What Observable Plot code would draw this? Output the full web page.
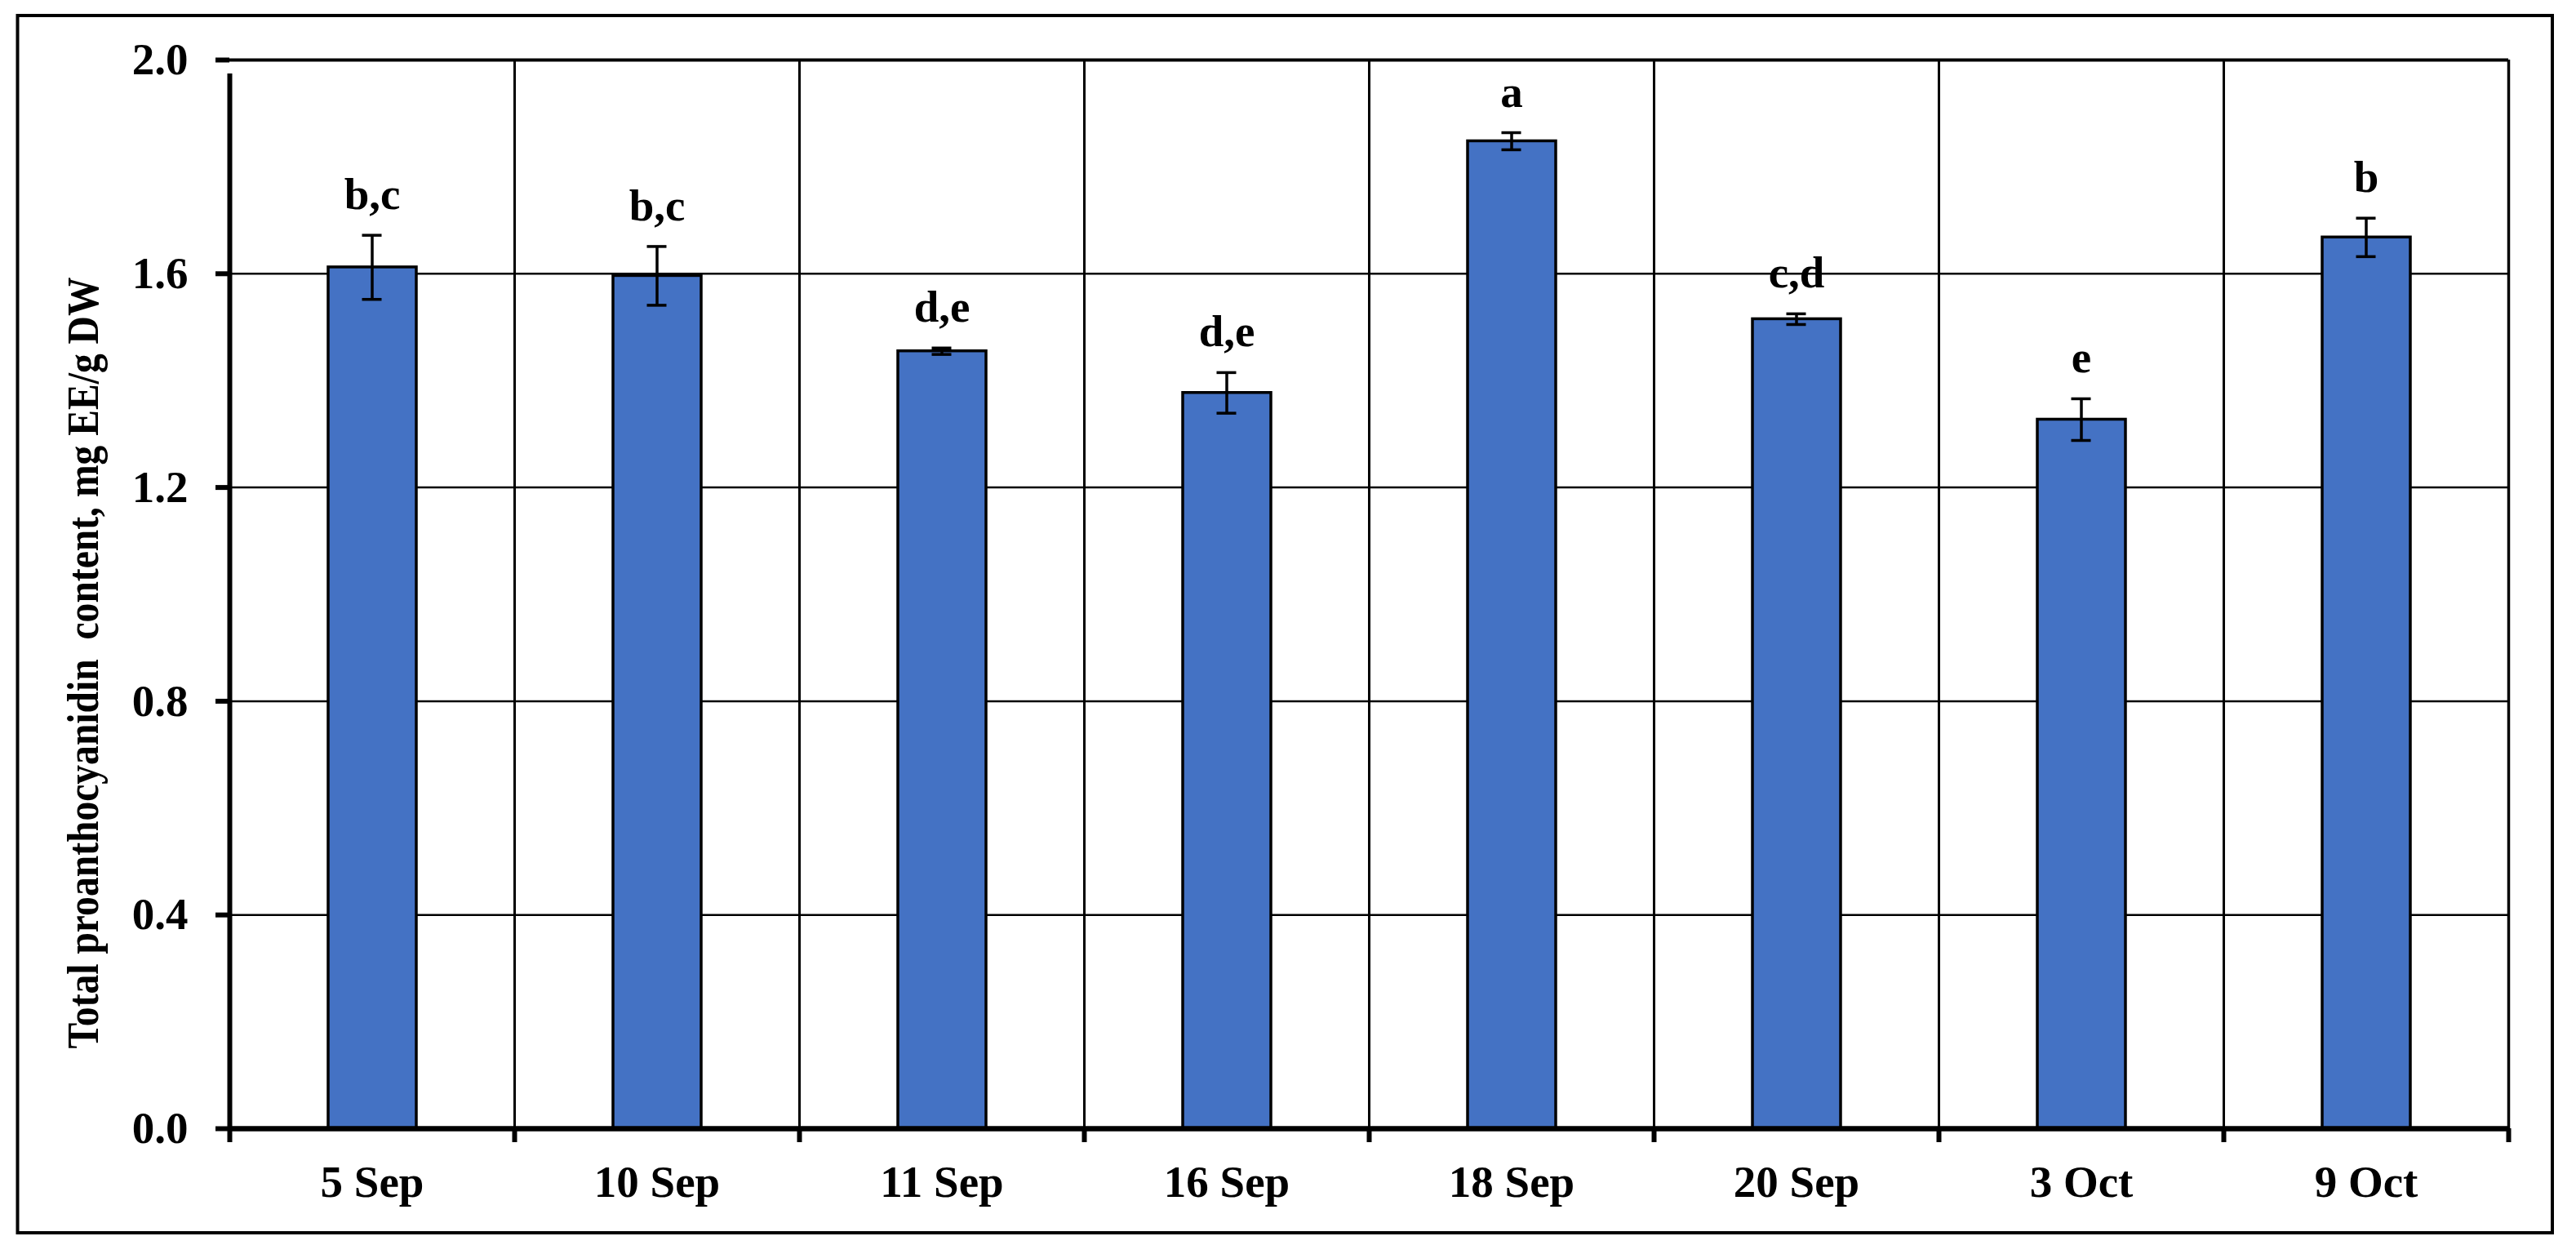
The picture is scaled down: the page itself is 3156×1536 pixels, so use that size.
<!DOCTYPE html>
<html>
<head>
<meta charset="utf-8">
<script src="https://cdn.jsdelivr.net/npm/d3@7"></script>
<script src="https://cdn.jsdelivr.net/npm/@observablehq/plot@0.6"></script>
<style>
  html, body { margin: 0; padding: 0; background: #ffffff; }
  #chart { position: relative; width: 3156px; height: 1536px; }
</style>
</head>
<body>
<div id="chart"></div>
<script>
// ---- data ----
const dates   = ["5 Sep", "10 Sep", "11 Sep", "16 Sep", "18 Sep", "20 Sep", "3 Oct", "9 Oct"];
const values  = [1.612, 1.596, 1.455, 1.377, 1.848, 1.515, 1.327, 1.668];
const errors  = [0.060, 0.055, 0.006, 0.038, 0.016, 0.010, 0.039, 0.036];
const letters = ["b,c", "b,c", "d,e", "d,e", "a", "c,d", "e", "b"];
const yTicks  = [0.0, 0.4, 0.8, 1.2, 1.6, 2.0];
const yTitle  = "Total proanthocyanidin  content, mg EE/g DW";

const rows = dates.map((d, i) => ({
  date: d, value: values[i], lo: values[i] - errors[i], hi: values[i] + errors[i], letter: letters[i]
}));

// ---- layout ----
const W = 3156, H = 1536;
const mL = 281, mR = 83, mT = 73, mB = 154;
const bw = (W - mL - mR) / dates.length;
const plotH = H - mT - mB;
const font = "'Liberation Serif', 'Times New Roman', serif";

const chart = Plot.plot({
  width: W, height: H,
  marginLeft: mL, marginRight: mR, marginTop: mT, marginBottom: mB,
  style: { fontFamily: font, fontSize: "55px", fontWeight: "bold", color: "black", background: "white" },
  x: { domain: dates, padding: 0, label: null },
  y: { domain: [0, 2], label: null },
  marks: [
    // horizontal gridlines
    Plot.ruleY(yTicks.filter(t => t > 0 && t < 2), { stroke: "black", strokeWidth: 2.5 }),
    Plot.ruleY([2.0], { stroke: "black", strokeWidth: 4 }),
    // vertical gridlines at category boundaries
    Plot.ruleX(dates.slice(1), { x: d => d, dx: -bw / 2, stroke: "black", strokeWidth: 3 }),
    Plot.ruleX([dates[dates.length - 1]], { x: d => d, dx: bw / 2, stroke: "black", strokeWidth: 3.5 }),
    // bars
    Plot.barY(rows, { x: "date", y: "value", fill: "#4472C4", stroke: "black", strokeWidth: 3.5, insetLeft: 121, insetRight: 120 }),
    // error bars
    Plot.ruleX(rows, { x: "date", y1: "lo", y2: "hi", stroke: "black", strokeWidth: 3.5 }),
    Plot.tickY(rows, { x: "date", y: "hi", inset: (bw - 24) / 2, stroke: "black", strokeWidth: 3.5 }),
    Plot.tickY(rows, { x: "date", y: "lo", inset: (bw - 24) / 2, stroke: "black", strokeWidth: 3.5 }),
    // significance letters
    Plot.text(rows, { x: "date", y: "hi", text: "letter", dy: -32, lineAnchor: "bottom",
      fontSize: 55, fontWeight: "bold", fontFamily: font, fill: "black" }),
    // axis lines
    Plot.ruleX([dates[0]], { x: d => d, dx: -bw / 2, y1: 0, y2: 2, insetBottom: -17, stroke: "black", strokeWidth: 6 }),
    Plot.ruleY([0], { stroke: "black", strokeWidth: 6.5 }),
    // x ticks at category boundaries
    Plot.tickX(dates, { x: d => d, dx: -bw / 2, insetTop: plotH, insetBottom: -17, stroke: "black", strokeWidth: 6 }),
    Plot.tickX([dates[dates.length - 1]], { x: d => d, dx: bw / 2, insetTop: plotH, insetBottom: -17, stroke: "black", strokeWidth: 6 }),
    // axes
    Plot.axisY({ ticks: yTicks, tickFormat: d3.format(".1f"), tickSize: 17, tickPadding: 34,
      strokeWidth: 6, fontSize: 55, fontWeight: "bold", fontFamily: font, label: null }),
    Plot.axisX({ tickSize: 0, tickPadding: 44, fontSize: 55, fontWeight: "bold", fontFamily: font, label: null })
  ]
});

document.getElementById("chart").appendChild(chart);

// outer border of the figure
const svg = d3.select(chart);
svg.append("rect")
  .attr("x", 21.5).attr("y", 19).attr("width", 3105.5).attr("height", 1491)
  .attr("fill", "none").attr("stroke", "black").attr("stroke-width", 4);

// y-axis title (rotated, slightly condensed as in the reference)
svg.append("text")
  .attr("transform", "translate(120, 812) rotate(-90)")
  .attr("text-anchor", "middle")
  .attr("font-family", font)
  .attr("font-size", 55)
  .attr("font-weight", "bold")
  .attr("fill", "black")
  .attr("textLength", 945)
  .attr("lengthAdjust", "spacingAndGlyphs")
  .style("white-space", "pre")
  .text(yTitle);
</script>
</body>
</html>
